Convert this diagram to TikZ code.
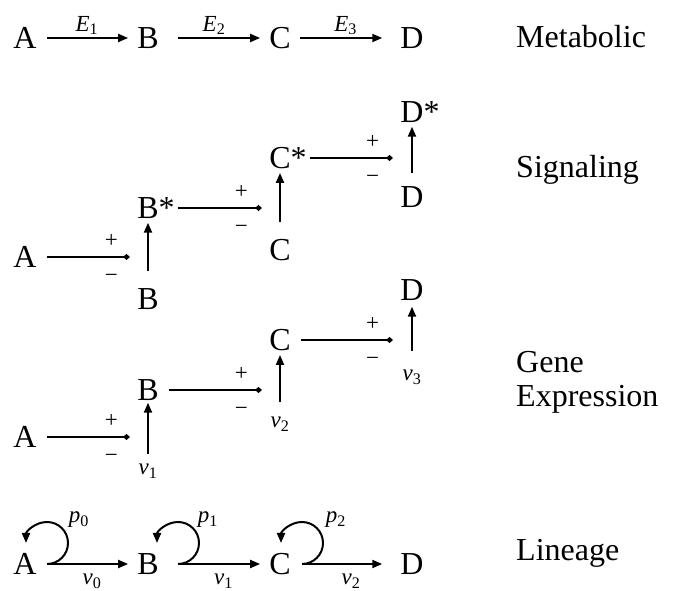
\documentclass[tikz,border=0pt]{standalone}
\usepackage{fontspec}
\setmainfont{Liberation Serif}
\usetikzlibrary{arrows.meta}

\begin{document}
\begin{tikzpicture}[x=1pt,y=1pt,
        ltr/.style={inner sep=0pt,font=\fontsize{32}{36}\selectfont},
        lab/.style={inner sep=0pt,font=\fontsize{23}{26}\selectfont},
        arr/.style={-{Triangle[length=10pt,width=8pt]},line width=2pt},
        act/.style={-{Diamond[length=7pt,width=6pt]},line width=2pt,shorten <=10pt},
        up/.style={arr,shorten <=17pt,shorten >=4pt},
        pl/.style={lab,pos=.8,above=8pt},
        mi/.style={lab,pos=.8,below=16pt}]
    \useasboundingbox (0,0) rectangle (674,591);
    \clip (0,0) rectangle (674,591);

    \node[ltr](mA)at(25,553){A};
    \node[ltr](mB)at(148,553){B};
    \node[ltr](mC)at(280,553){C};
    \node[ltr](mD)at(412,553){D};
    \draw[arr,shorten <=10pt,shorten >=9pt](mA)--node[lab,above=2pt]{\textit{E}\textsubscript{1}}(mB);
    \draw[arr,shorten <=19pt,shorten >=9pt](mB)--node[lab,above=2pt]{\textit{E}\textsubscript{2}}(mC);
    \draw[arr,shorten <=9pt,shorten >=18pt](mC)--node[lab,above=2pt]{\textit{E}\textsubscript{3}}(mD);

    \node[ltr](sA)at(25,334){A};
    \node[ltr](sB)at(148,292){B};
    \node[ltr](sBs)at(148,383){B\rlap{*}};
    \node[ltr](sC)at(280,341){C};
    \node[ltr](sCs)at(280,433){C\rlap{*}};
    \node[ltr](sD)at(412,394){D};
    \node[ltr](sDs)at(412,479){D\rlap{*}};
    \coordinate(sk1)at(130,334);
    \coordinate(sk2)at(262,383);
    \coordinate(sk3)at(393,433);
    \draw[act](sA)--node[pl]{+}node[mi]{−}(sk1);
    \draw[act,shorten <=19pt](sBs)--node[pl]{+}node[mi]{−}(sk2);
    \draw[act,shorten <=19pt](sCs)--node[pl]{+}node[mi]{−}(sk3);
    \draw[up](sB)--(sBs);
    \draw[up](sC)--(sCs);
    \draw[up,shorten <=13pt](sD)--(sDs);

    \node[ltr](gA)at(25,154){A};
    \node[ltr](gB)at(148,201){B};
    \node[ltr](gC)at(280,251){C};
    \node[ltr](gD)at(412,301){D};
    \node[lab](gv1)at(148,120){\textit{v}\textsubscript{1}};
    \node[lab](gv2)at(280,167){\textit{v}\textsubscript{2}};
    \node[lab](gv3)at(412,214){\textit{v}\textsubscript{3}};
    \coordinate(gk1)at(130,154);
    \coordinate(gk2)at(262,201);
    \coordinate(gk3)at(393,251);
    \draw[act](gA)--node[pl]{+}node[mi]{−}(gk1);
    \draw[act](gB)--node[pl]{+}node[mi]{−}(gk2);
    \draw[act](gC)--node[pl]{+}node[mi]{−}(gk3);
    \draw[arr,shorten <=10pt,shorten >=2pt](gv1)--(gB);
    \draw[arr,shorten <=15pt,shorten >=4pt](gv2)--(gC);
    \draw[arr,shorten <=19pt,shorten >=6pt](gv3)--(gD);

    \node[ltr](lA)at(25,27){A};
    \node[ltr](lB)at(148,27){B};
    \node[ltr](lC)at(280,27){C};
    \node[ltr](lD)at(412,27){D};
    \coordinate(lA0)at(47,27);
    \coordinate(lB0)at(178,27);
    \coordinate(lC0)at(302,27);
    \draw[arr](lA0)arc[start angle=-90,end angle=180,radius=21];
    \draw[arr](lB0)arc[start angle=-90,end angle=180,radius=21];
    \draw[arr](lC0)arc[start angle=-90,end angle=180,radius=21];
    \node[lab](lp0)at(79,71){\textit{p}\textsubscript{0}};
    \node[lab](lp1)at(208,71){\textit{p}\textsubscript{1}};
    \node[lab](lp2)at(336,71){\textit{p}\textsubscript{2}};
    \draw[arr,shorten >=9pt](lA0)--node[lab,below=9pt]{\textit{v}\textsubscript{0}}(lB);
    \draw[arr,shorten >=9pt](lB0)--node[lab,below=9pt]{\textit{v}\textsubscript{1}}(lC);
    \draw[arr,shorten >=18pt](lC0)--node[lab,below=9pt]{\textit{v}\textsubscript{2}}(lD);

    \node[ltr,anchor=base west](tmet)at(516,543){Metabolic};
    \node[ltr,anchor=base west](tsig)at(516,413){Signaling};
    \node[ltr,anchor=base west](tgen)at(516,218){Gene};
    \node[ltr,anchor=base west](texp)at(516,184){Expression};
    \node[ltr,anchor=base west](tlin)at(516,30){Lineage};
\end{tikzpicture}
\end{document}
